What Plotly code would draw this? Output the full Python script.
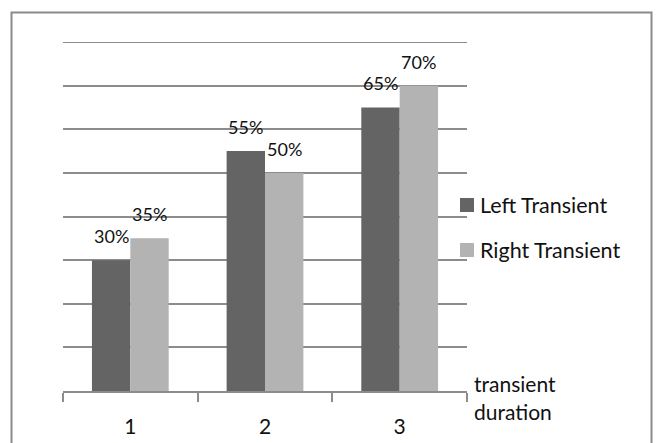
import plotly.graph_objects as go

# Chart data
categories = ["1", "2", "3"]
series_names = ["Left Transient", "Right Transient"]
left_values = [0.30, 0.55, 0.65]
right_values = [0.35, 0.50, 0.70]
series_colors = ["#646464", "#b3b3b3"]
axis_title_lines = ["transient", "duration"]

FONT = "Lato, 'Open Sans', sans-serif"
GRID = "#8c8c8c"
TEXT = "#111111"

W, H = 660, 443
ML, MR, MT, MB = 63, 193, 42, 52
PW, PH = W - ML - MR, H - MT - MB
BARGAP = 0.43
Y_TOP = 0.8


def px_x(p):
    return (p - ML) / PW


def px_y(p):
    return (H - MB - p) / PH


series_values = [left_values, right_values]

fig = go.Figure()
for name, vals, col in zip(series_names, series_values, series_colors):
    fig.add_trace(go.Bar(
        x=categories, y=vals, name=name,
        marker=dict(color=col, line=dict(width=0)),
        showlegend=False,
    ))

annotations = []

# value labels floating above each bar (category axis positions are 0..n-1)
bar_px = PW / len(categories) * (1 - BARGAP) / len(series_names)
for i, vals in enumerate(series_values):
    shift = (i - (len(series_names) - 1) / 2) * bar_px
    for j, v in enumerate(vals):
        annotations.append(dict(
            x=j, y=v, xref="x", yref="y", text=f"{v:.0%}",
            xshift=shift, yshift=24, xanchor="center", yanchor="middle",
            showarrow=False, font=dict(family=FONT, size=18, color=TEXT)))

shapes = [
    # outer chart border
    dict(type="rect", xref="paper", yref="paper",
         x0=px_x(11.5), x1=px_x(651.5), y0=px_y(450), y1=px_y(12.5),
         line=dict(color="#8a8a8a", width=2), fillcolor="rgba(0,0,0,0)", layer="below"),
    # top gridline at the upper end of the value range
    dict(type="line", xref="paper", yref="y", x0=0, x1=1, y0=Y_TOP, y1=Y_TOP,
         line=dict(color=GRID, width=2), layer="below"),
]

# legend: square swatch + label
legend_rows = [205, 250]
for name, col, yc in zip(series_names, series_colors, legend_rows):
    shapes.append(dict(type="rect", xref="paper", yref="paper",
                       x0=px_x(460), x1=px_x(474), y0=px_y(yc + 7), y1=px_y(yc - 7),
                       line=dict(width=0), fillcolor=col))
    annotations.append(dict(text=name, xref="paper", yref="paper",
                            x=px_x(478), y=px_y(yc), xanchor="left", yanchor="middle",
                            showarrow=False, font=dict(family=FONT, size=21.5, color=TEXT)))

# axis title at the end of the category axis, one line per annotation
for line, yc in zip(axis_title_lines, [383, 411]):
    annotations.append(dict(text=line, xref="paper", yref="paper",
                            x=px_x(472), y=px_y(yc), xanchor="left", yanchor="middle",
                            showarrow=False, font=dict(family=FONT, size=21, color=TEXT)))

fig.update_layout(
    width=W, height=H,
    margin=dict(l=ML, r=MR, t=MT, b=MB, pad=0, autoexpand=False),
    paper_bgcolor="white", plot_bgcolor="white",
    barmode="group", bargap=BARGAP, bargroupgap=0,
    showlegend=False,
    shapes=shapes, annotations=annotations,
    xaxis=dict(
        type="category", range=[-0.5, len(categories) - 0.5], automargin=False,
        showline=True, linecolor=GRID, linewidth=1.5,
        ticks="outside", tickson="boundaries", ticklen=9, tickcolor=GRID, tickwidth=1.5,
        ticklabelstandoff=16,
        showgrid=False, tickfont=dict(family=FONT, size=21, color=TEXT),
        fixedrange=True,
    ),
    yaxis=dict(
        range=[0, Y_TOP], dtick=0.1, automargin=False,
        showticklabels=False, showgrid=True,
        gridcolor=GRID, gridwidth=1.5, zeroline=False, ticks="", fixedrange=True,
    ),
)

fig.write_html("out.html")
